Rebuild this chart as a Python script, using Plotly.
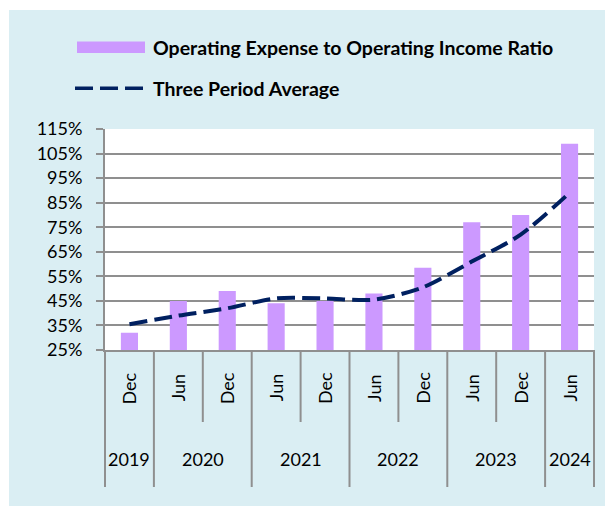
import plotly.graph_objects as go

# Half-year periods and their fiscal years
months = ["Dec", "Jun", "Dec", "Jun", "Dec", "Jun", "Dec", "Jun", "Dec", "Jun"]
years = ["2019", "2020", "2020", "2021", "2021", "2022", "2022", "2023", "2023", "2024"]

# Operating expense to operating income ratio (%)
ratio = [32, 45, 49, 44, 45, 48, 58.5, 77, 80, 109]
# Three period average (%)
avg3 = [35.5, 39, 42, 46, 46, 45.5, 50.5, 61, 72, 89]

y_ticks = list(range(25, 116, 10))

W, H = 605, 506
L, R, T, B = 105, 11, 129, 156
PW, PH = W - L - R, H - T - B

PANEL = "#DAEEF3"
GRID = "#8f8f8f"
BAR = "#CC99FF"
LINE = "#002060"
FONT = "Lato"


def px_x(px):
    return (px - L) / PW


def px_y(py):
    return (H - B - py) / PH


n = len(months)
idx = list(range(n))

fig = go.Figure()
fig.add_trace(go.Bar(x=idx, y=ratio, width=0.35, marker=dict(color=BAR, line=dict(width=0)),
                     name="Operating Expense to Operating Income Ratio", showlegend=False))
fig.add_trace(go.Scatter(x=idx, y=avg3, mode="lines", line=dict(color=LINE, width=4, dash="18px,7px",
                         shape="spline", smoothing=0.8), name="Three Period Average", showlegend=False))

shapes = []
annotations = []

# white outer border on the left and top
shapes.append(dict(type="rect", xref="paper", yref="paper", x0=px_x(0), x1=px_x(9), y0=px_y(H), y1=px_y(0),
                   fillcolor="white", line=dict(width=0), layer="below"))
shapes.append(dict(type="rect", xref="paper", yref="paper", x0=px_x(0), x1=px_x(W), y0=px_y(10), y1=px_y(0),
                   fillcolor="white", line=dict(width=0), layer="below"))

# category separators: short within a year, long between years
for k in range(n + 1):
    new_year = k == 0 or k == n or years[k] != years[k - 1]
    bottom = 487 if new_year else 422
    xp = k / n
    shapes.append(dict(type="line", xref="paper", yref="paper", x0=xp, x1=xp, y0=0, y1=px_y(bottom),
                       line=dict(color=GRID, width=2)))

# month labels
for i, m in enumerate(months):
    annotations.append(dict(x=i, y=px_y(388), xref="x", yref="paper", text=m, textangle=-90,
                            showarrow=False, font=dict(family=FONT, size=18, color="black"),
                            xanchor="center", yanchor="middle"))

# year labels centred under their periods
groups = []
for i, yv in enumerate(years):
    if groups and groups[-1][0] == yv:
        groups[-1][1].append(i)
    else:
        groups.append((yv, [i]))
for yv, members in groups:
    annotations.append(dict(x=sum(members) / len(members), y=px_y(459), xref="x", yref="paper", text=yv,
                            showarrow=False, font=dict(family=FONT, size=18, color="black"),
                            xanchor="center", yanchor="middle"))

# legend
shapes.append(dict(type="rect", xref="paper", yref="paper", x0=px_x(77), x1=px_x(145), y0=px_y(53), y1=px_y(41.5),
                   fillcolor=BAR, line=dict(width=0)))
shapes.append(dict(type="line", xref="paper", yref="paper", x0=px_x(75), x1=px_x(143), y0=px_y(88.3), y1=px_y(88.3),
                   line=dict(color=LINE, width=3.5, dash="18px,7px")))
annotations.append(dict(x=px_x(151), y=px_y(47), xref="paper", yref="paper",
                        text="<b>Operating Expense to Operating Income Ratio</b>", showarrow=False,
                        font=dict(family=FONT, size=19.5, color="black"), xanchor="left", yanchor="middle"))
annotations.append(dict(x=px_x(151), y=px_y(88), xref="paper", yref="paper",
                        text="<b>Three Period Average</b>", showarrow=False,
                        font=dict(family=FONT, size=19.5, color="black"), xanchor="left", yanchor="middle"))

fig.update_layout(
    width=W, height=H,
    margin=dict(l=L, r=R, t=T, b=B, pad=0),
    paper_bgcolor=PANEL, plot_bgcolor="white",
    showlegend=False,
    shapes=shapes, annotations=annotations,
    xaxis=dict(range=[-0.5, n - 0.5], showticklabels=False, showgrid=False, zeroline=False,
               showline=True, linecolor=GRID, linewidth=2, ticks="", fixedrange=True),
    yaxis=dict(range=[25, 115], tickvals=y_ticks, ticktext=[f"{v}%" for v in y_ticks],
               showgrid=True, gridcolor=GRID, gridwidth=1.5, zeroline=False,
               showline=True, linecolor=GRID, linewidth=2,
               ticks="outside", ticklen=7, tickcolor=GRID, tickwidth=2, ticklabelstandoff=10,
               tickfont=dict(family=FONT, size=18, color="black")),
)

fig.write_html("out.html")
